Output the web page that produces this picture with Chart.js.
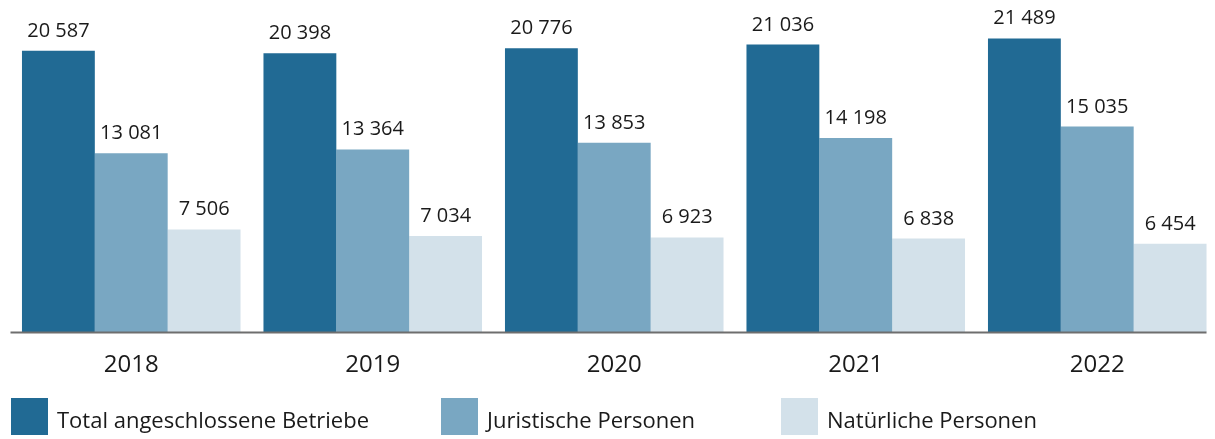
<!DOCTYPE html>
<html>
<head>
<meta charset="utf-8">
<style>
  html, body { margin: 0; padding: 0; background: #fff; overflow: hidden; }
  #wrap { width: 1215px; height: 439px; overflow: hidden; }
</style>
<script src="https://cdn.jsdelivr.net/npm/chart.js@4/dist/chart.umd.min.js"></script>
</head>
<body>
<div id="wrap"><canvas id="barChart" width="1218" height="439"></canvas></div>
<script>
// Jahre und Werte
var years = ["2018", "2019", "2020", "2021", "2022"];
var totalBetriebe = [20587, 20398, 20776, 21036, 21489];
var juristische = [13081, 13364, 13853, 14198, 15035];
var natuerliche = [7506, 7034, 6923, 6838, 6454];
var seriesNames = ["Total angeschlossene Betriebe", "Juristische Personen", "Natürliche Personen"];
var seriesColors = ["#216a94", "#79a7c2", "#d3e1ea"];

var FONT = "'Open Sans', 'Noto Sans', sans-serif";

function fmt(v) {
    return String(v).replace(/\B(?=(\d{3})+(?!\d))/g, " ");
}

// Zahlen über den Balken
var valueLabels = {
    id: "valueLabels",
    afterDatasetsDraw: function (chart) {
        var ctx = chart.ctx;
        ctx.save();
        ctx.fillStyle = "#1a1a1a";
        ctx.font = "20px " + FONT;
        ctx.textAlign = "center";
        ctx.textBaseline = "alphabetic";
        chart.data.datasets.forEach(function (ds, i) {
            chart.getDatasetMeta(i).data.forEach(function (bar, j) {
                ctx.fillText(fmt(ds.data[j]), bar.x, bar.y - 14);
            });
        });
        ctx.restore();
    }
};

// Achsenlinie bis zum Ende des letzten Balkens
var baseLine = {
    id: "baseLine",
    afterDatasetsDraw: function (chart) {
        var ctx = chart.ctx;
        var metas = chart.getDatasetMeta(chart.data.datasets.length - 1).data;
        var last = metas[metas.length - 1];
        var y = chart.scales.y.getPixelForValue(0);
        ctx.save();
        ctx.strokeStyle = "#6e6e6e";
        ctx.lineWidth = 2;
        ctx.beginPath();
        ctx.moveTo(chart.chartArea.left, y + 0.5);
        ctx.lineTo(last.x + last.width / 2, y + 0.5);
        ctx.stroke();
        ctx.restore();
    }
};

// Legende unten
var bottomLegend = {
    id: "bottomLegend",
    afterDraw: function (chart) {
        var ctx = chart.ctx;
        var xs = [11, 441, 781];
        ctx.save();
        ctx.font = "22px " + FONT;
        ctx.textBaseline = "middle";
        ctx.textAlign = "left";
        seriesNames.forEach(function (name, i) {
            ctx.fillStyle = seriesColors[i];
            ctx.fillRect(xs[i], 398, 37, 37);
            ctx.fillStyle = "#1a1a1a";
            ctx.fillText(name, xs[i] + 46, 422);
        });
        ctx.restore();
    }
};

var ctx = document.getElementById("barChart").getContext("2d");
var chart = new Chart(ctx, {
    type: "bar",
    data: {
        labels: years,
        datasets: [
            { label: seriesNames[0], data: totalBetriebe, backgroundColor: seriesColors[0] },
            { label: seriesNames[1], data: juristische, backgroundColor: seriesColors[1] },
            { label: seriesNames[2], data: natuerliche, backgroundColor: seriesColors[2] }
        ]
    },
    options: {
        responsive: false,
        animation: false,
        layout: { padding: { left: 10.5, right: 0, top: 0, bottom: 0 } },
        datasets: {
            bar: { barPercentage: 1, categoryPercentage: 0.905 }
        },
        plugins: {
            legend: { display: false },
            tooltip: { enabled: false }
        },
        scales: {
            x: {
                grid: { display: false, drawTicks: false },
                border: { display: false },
                ticks: {
                    color: "#1a1a1a",
                    font: { family: FONT, size: 24 },
                    padding: 19
                },
                afterFit: function (scale) { scale.height = 107; }
            },
            y: {
                display: false,
                min: 0,
                max: 24300
            }
        }
    },
    plugins: [valueLabels, baseLine, bottomLegend]
});
</script>
</body>
</html>
